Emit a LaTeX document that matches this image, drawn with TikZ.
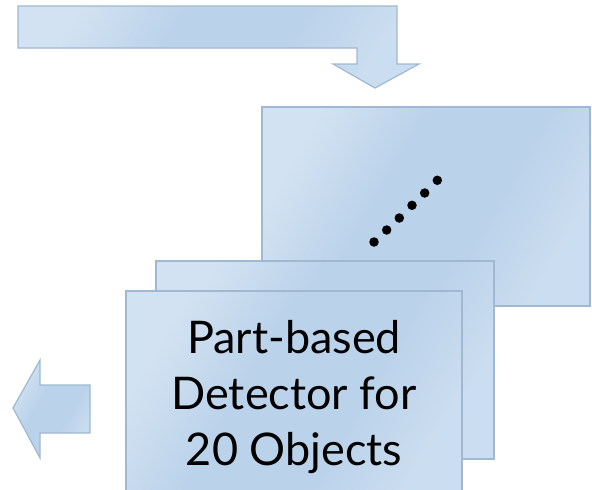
\documentclass[tikz,border=0pt]{standalone}
\usepackage{fontspec}
\setmainfont{Lato}
\definecolor{lightblue}{RGB}{211,226,242}
\definecolor{midblue}{RGB}{186,210,234}
\definecolor{edgeblue}{RGB}{160,184,208}
% soft diagonal fill: pale corners, broad darker middle
\pgfdeclarehorizontalshading{panelshade}{100bp}{color(0bp)=(lightblue); color(25bp)=(lightblue);
  color(42bp)=(midblue); color(60bp)=(midblue); color(75bp)=(lightblue!70!midblue); color(100bp)=(lightblue!70!midblue)}
\begin{document}
\begin{tikzpicture}[x=1pt,y=-1pt,
  panel/.style={draw=edgeblue, line width=1.4pt, shading=panelshade, shading angle=-30},
  blockarrow/.style={draw=edgeblue, line width=1.2pt, shading=panelshade, shading angle=-30, line join=miter},
  dot/.style={circle, fill=black, inner sep=0pt, minimum size=9.5pt}]
\clip (0,0) rectangle (592,490);
\useasboundingbox (0,0) rectangle (592,490);

% bent arrow coming in from the top left
\draw[blockarrow] (18,6) -- (397,6) -- (397,64) -- (419,64) -- (375,88)
  -- (333,64) -- (357,64) -- (357,48) -- (18,48) -- cycle;

% stacked detector panels, back to front
\draw[panel] (262,107) rectangle (590,306);
\node[dot] (d1) at (374,242) {};
\node[dot] (d2) at (386.7,230) {};
\node[dot] (d3) at (399.3,218) {};
\node[dot] (d4) at (412,205.3) {};
\node[dot] (d5) at (424.7,193) {};
\node[dot] (d6) at (437.3,180.3) {};
\draw[panel] (156,261) rectangle (494,459);
\draw[panel] (126,291) rectangle (462,500);
\node[align=center, font=\fontsize{45}{56}\selectfont, inner sep=0pt] (label) at (294,397)
  {Part-based\\Detector for\\20 Objects};

% outgoing arrow on the left
\draw[blockarrow] (90,385) -- (40,385) -- (40,360) -- (13,408) -- (40,458)
  -- (40,433) -- (90,433) -- cycle;
\end{tikzpicture}
\end{document}
